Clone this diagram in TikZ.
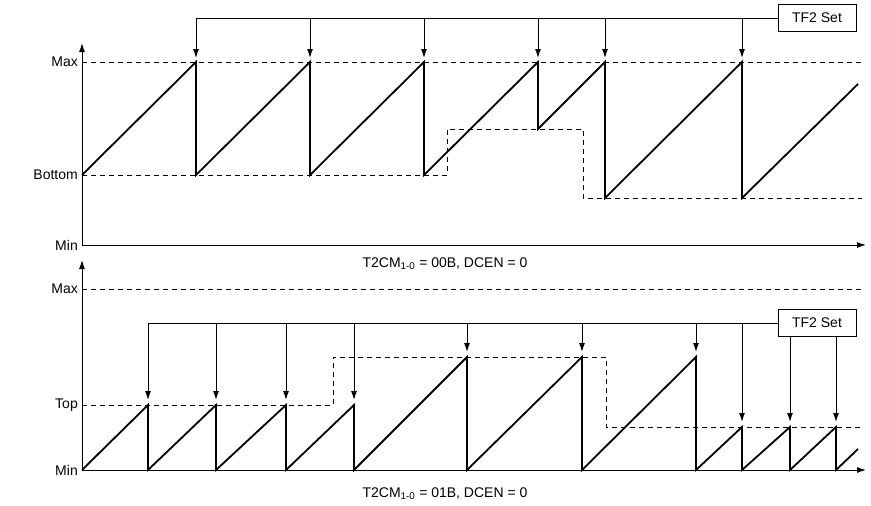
\documentclass[tikz,border=0pt]{standalone}
\usepackage{fontspec}
\setmainfont{Liberation Sans}
\usetikzlibrary{arrows.meta}

\begin{document}
\begin{tikzpicture}%
	[x=1pt, y=-1pt,
	axis/.style={-{Latex[length=9pt,width=6pt]}, line width=1pt},
	level/.style={dash pattern=on 5pt off 4pt, line width=1pt},
	wave/.style={line width=1.8pt, line join=miter},
	flag/.style={-{Latex[length=9pt,width=6pt]}, line width=1pt},
	tag/.style={draw, line width=1pt, minimum width=78pt, minimum height=27pt, fill=white},
	lbl/.style={anchor=east, inner sep=2pt},
	every node/.style={font=\fontsize{14}{16}\selectfont}]
\useasboundingbox (0,0) rectangle (871,506);
%%
%% upper plot
%%
\coordinate (o1) at (82,245);
\coordinate (ytop1) at (82,43);
\coordinate (xend1) at (866,245);
\draw[axis] (o1) -- (ytop1);
\draw[axis] (o1) -- (xend1);
\draw[level] (82,62) -- (862,62);
\draw[level] (82,175) -- (447,175) -- (447,129) -- (583,129) -- (583,198) -- (862,198);
\node[lbl] (max1) at (80,62) {Max};
\node[lbl] (bot1) at (80,175) {Bottom};
\node[lbl] (min1) at (80,245) {Min};
\draw[wave] (82,175) -- (196,62) -- (196,175) -- (310,62) -- (310,175) -- (424,62)
	-- (424,175) -- (538,62) -- (538,129) -- (605,62) -- (605,198) -- (742,62)
	-- (742,198) -- (858,84);
\node[tag] (tf1) at (817,18) {TF2 Set};
\draw[line width=1pt] (tf1.west) -- (196,18);
\foreach \x in {196,310,424,538,605,742}
	\draw[flag] (\x,18) -- (\x,58);
\node (cap1) at (445,264) {T2CM\textsubscript{1-0} = 00B, DCEN = 0};
%%
%% lower plot
%%
\coordinate (o2) at (82,470);
\coordinate (ytop2) at (82,260);
\coordinate (xend2) at (866,470);
\draw[axis] (o2) -- (ytop2);
\draw[axis] (o2) -- (xend2);
\draw[level] (82,289) -- (862,289);
\draw[level] (82,405) -- (333,405) -- (333,357) -- (606,357) -- (606,427) -- (862,427);
\node[lbl] (max2) at (80,289) {Max};
\node[lbl] (top2) at (80,405) {Top};
\node[lbl] (min2) at (80,470) {Min};
\draw[wave] (82,470) -- (148,405) -- (148,470) -- (216,405) -- (216,470) -- (286,405)
	-- (286,470) -- (354,405) -- (354,470) -- (467,357) -- (467,470) -- (582,357)
	-- (582,470) -- (696,357) -- (696,470) -- (742,427) -- (742,470) -- (790,427)
	-- (790,470) -- (836,427) -- (836,470) -- (858,449);
\node[tag] (tf2) at (817,323) {TF2 Set};
\draw[line width=1pt] (tf2.west) -- (148,323);
\foreach \x in {148,216,286,354}
	\draw[flag] (\x,323) -- (\x,400);
\foreach \x in {467,582,696}
	\draw[flag] (\x,323) -- (\x,352);
\draw[flag] (742,323) -- (742,422);
\foreach \x in {790,836}
	\draw[flag] (\x,323 |- tf2.south) -- (\x,422);
\node (cap2) at (445,494) {T2CM\textsubscript{1-0} = 01B, DCEN = 0};
\end{tikzpicture}
\end{document}
